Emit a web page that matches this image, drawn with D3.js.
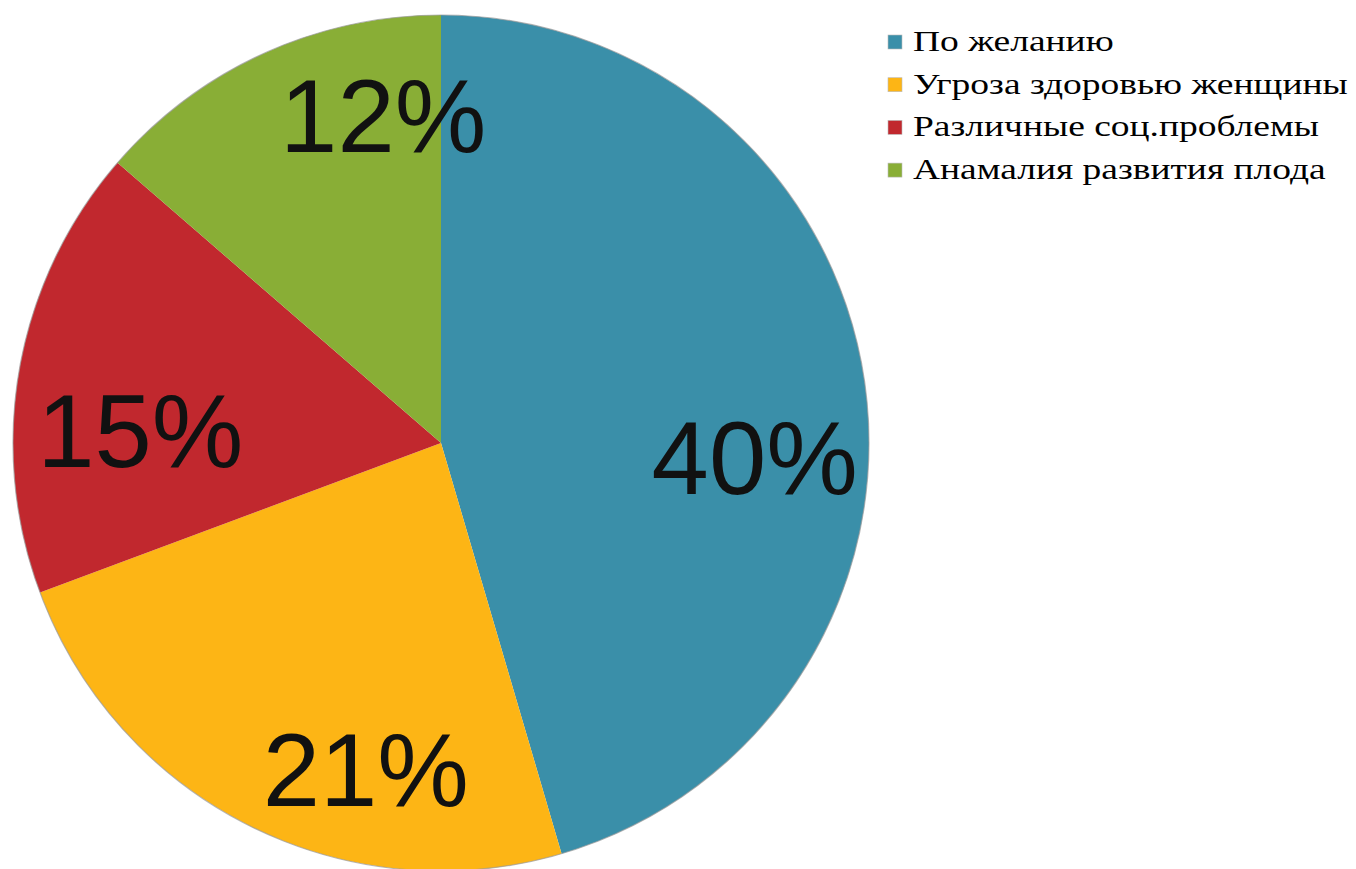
<!DOCTYPE html>
<html>
<head>
<meta charset="utf-8">
<script src="https://cdn.jsdelivr.net/npm/d3@7"></script>
<style>
  body { margin: 0; background: #fff; }
  svg { display: block; }
</style>
</head>
<body>
<div id="chart"></div>
<script>
// chart data
const categories = ['По желанию', 'Угроза здоровью женщины', 'Различные соц.проблемы', 'Анамалия развития плода'];
const values = [40, 21, 15, 12];
const labels = ['40%', '21%', '15%', '12%'];
const colors = ['#3a8fa9', '#fdb515', '#c1282e', '#89ae36'];

const width = 1356, height = 869;
const cx = 441, cy = 443, radius = 428;

// where Excel put the labels (angle in degrees, distance from center)
const labelPlace = [
  { angle: 92.5, dist: 314 },
  { angle: 193, dist: 334 },
  { angle: 272.5, dist: 301 },
  { angle: 350, dist: 333 }
];

const svg = d3.select('#chart')
  .append('svg')
  .attr('width', width)
  .attr('height', height);

const pie = d3.pie().sort(null).value(d => d);
const arcs = pie(values);
const arc = d3.arc().innerRadius(0).outerRadius(radius);

const color = d3.scaleOrdinal().domain(categories).range(colors);

const g = svg.append('g').attr('transform', `translate(${cx},${cy})`);

g.selectAll('path')
  .data(arcs)
  .join('path')
  .attr('d', arc)
  .attr('fill', (d, i) => color(categories[i]));

// outer rim shadow
g.append('circle')
  .attr('r', radius)
  .attr('fill', 'none')
  .attr('stroke', '#9a9a9a')
  .attr('stroke-width', 1.2)
  .attr('opacity', 0.7);

g.selectAll('text.pct')
  .data(arcs)
  .join('text')
  .attr('class', 'pct')
  .attr('x', (d, i) => labelPlace[i].dist * Math.sin(labelPlace[i].angle * Math.PI / 180))
  .attr('y', (d, i) => -labelPlace[i].dist * Math.cos(labelPlace[i].angle * Math.PI / 180))
  .attr('dy', '0.36em')
  .attr('text-anchor', 'middle')
  .style('font-family', '"Liberation Sans", Arial, sans-serif')
  .style('font-size', '103px')
  .attr('fill', '#111')
  .text((d, i) => labels[i]);

// legend
const legend = svg.append('g').attr('transform', 'translate(888,42)');
const rows = legend.selectAll('g')
  .data(categories)
  .join('g')
  .attr('transform', (d, i) => `translate(0,${i * 42.7})`);

rows.append('rect')
  .attr('x', 0)
  .attr('y', -7)
  .attr('width', 14)
  .attr('height', 14)
  .attr('fill', d => color(d))
  .attr('stroke', '#bbb')
  .attr('stroke-width', 0.6);

// the original legend text is stretched wide
rows.append('text')
  .attr('transform', 'translate(25,9) scale(1.25,1)')
  .style('font-family', '"Liberation Serif", "Times New Roman", serif')
  .style('font-size', '30px')
  .attr('fill', '#000')
  .text(d => d);
</script>
</body>
</html>
